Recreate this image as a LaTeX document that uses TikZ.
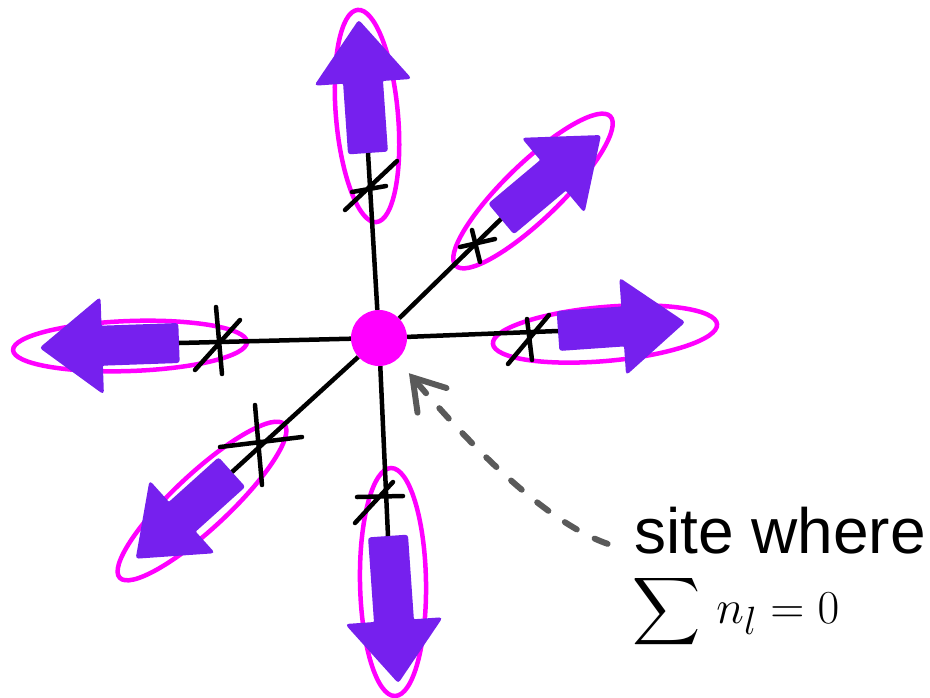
\documentclass[tikz,border=0pt]{standalone}
\usepackage{exscale}
\usepackage{fontspec}
\newfontfamily\notefont{Liberation Sans}
\usetikzlibrary{arrows.meta,shapes.geometric,shapes.arrows}
\definecolor{spinpurple}{RGB}{118,32,238}
\definecolor{loopmagenta}{RGB}{255,0,255}
\definecolor{notegray}{RGB}{90,90,90}
\tikzset{
  spinarrow/.style={single arrow, fill=spinpurple, draw=spinpurple, line width=2pt,
    rounded corners=2pt, inner xsep=0pt, inner ysep=18pt,
    single arrow head extend=28pt, single arrow tip angle=76, anchor=tail},
  spinloop/.style={ellipse, draw=loopmagenta, line width=4.5pt, inner sep=0pt},
  spoke/.style={line width=4.5pt},
  crossmark/.style={line width=4.5pt, line cap=round},
  sitedot/.style={circle, fill=loopmagenta, minimum size=56pt, inner sep=0pt},
  pointer/.style={draw=notegray, line width=6pt, line cap=round,
    dash pattern=on 14pt off 20pt,
    -{Straight Barb[length=30pt, width=38pt, line cap=round]}}
}

\begin{document}
\begin{tikzpicture}[x=1pt, y=-1pt]
\useasboundingbox (0,0) rectangle (930,697);

% loops around each arrow
\node[spinloop, minimum width=213pt, minimum height=62pt, rotate=95] (uploop) at (367,116) {};
\node[spinloop, minimum width=215pt, minimum height=56pt, rotate=44] (urloop) at (533,191) {};
\node[spinloop, minimum width=225pt, minimum height=54pt, rotate=5] (rightloop) at (605,334) {};
\node[spinloop, minimum width=234pt, minimum height=50pt, rotate=2] (leftloop) at (130,346) {};
\node[spinloop, minimum width=225pt, minimum height=55pt, rotate=43] (dlloop) at (202,501) {};
\node[spinloop, minimum width=228pt, minimum height=66pt, rotate=91] (downloop) at (393,582) {};

\node[sitedot] (site) at (379,338) {};

% arrows
\node[spinarrow, minimum height=131pt, rotate=94] (uparrow) at (368,153) {};
\node[spinarrow, minimum height=128pt, rotate=40] (urarrow) at (501,219) {};
\node[spinarrow, minimum height=125pt, rotate=4] (rightarrow) at (558,331) {};
\node[spinarrow, minimum height=137pt, rotate=182] (leftarrow) at (179,343) {};
\node[spinarrow, minimum height=127pt, rotate=222] (dlarrow) at (232,472) {};
\node[spinarrow, minimum height=145pt, rotate=274] (downarrow) at (388,536) {};

% spokes
\draw[spoke] (site) -- (uparrow.tail);
\draw[spoke] (site) -- (urarrow.tail);
\draw[spoke] (site) -- (rightarrow.tail);
\draw[spoke] (site) -- (leftarrow.tail);
\draw[spoke] (site) -- (dlarrow.tail);
\draw[spoke] (site) -- (downarrow.tail);

% crosses on the spokes
\draw[crossmark] (345,210) -- (397,161) (352,192) -- (386,186);
\draw[crossmark] (460,247) -- (495,239) (472,230) -- (480,262);
\draw[crossmark] (508,364) -- (549,315) (527,319) -- (532,360);
\draw[crossmark] (195,370) -- (240,320) (216,307) -- (222,374);
\draw[crossmark] (255,405) -- (262,485) (220,447) -- (302,437);
\draw[crossmark] (357,497) -- (403,496) (355,523) -- (393,482);

% label
\node[anchor=base west, inner sep=0pt, font=\notefont\fontsize{64}{70}\selectfont] (sitetext) at (634,553) {site where};
\node[anchor=base west, inner sep=0pt, font=\Huge, scale=1.9] (sumtext) at (632,623) {$\displaystyle\sum\, n_l = 0$};

\draw[pointer, shorten <=28pt, shorten >=18pt] (sitetext.base west) .. controls (545,522) and (470,445) .. (site);
\end{tikzpicture}
\end{document}
